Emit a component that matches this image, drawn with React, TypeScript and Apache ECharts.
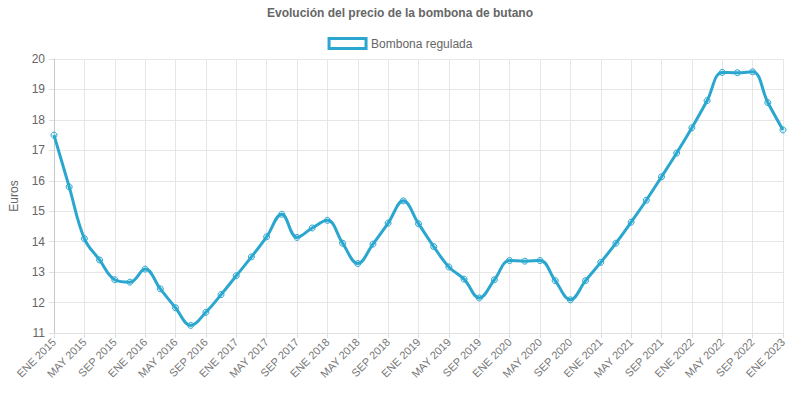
import { useEffect, useRef } from 'react';
import * as echarts from 'echarts';

const months = ['ENE', 'MAR', 'MAY', 'JUL', 'SEP', 'NOV'];
const years = [2015, 2016, 2017, 2018, 2019, 2020, 2021, 2022];

// bimonthly labels, ENE 2015 .. ENE 2023
const categories: string[] = [];
years.forEach((y) => months.forEach((m) => categories.push(`${m} ${y}`)));
categories.push('ENE 2023');

const precios = [
  17.5, 15.8, 14.1, 13.4, 12.75, 12.67,
  13.1, 12.45, 11.83, 11.25, 11.68, 12.26,
  12.88, 13.5, 14.16, 14.9, 14.14, 14.45,
  14.7, 13.95, 13.28, 13.92, 14.61, 15.34,
  14.59, 13.84, 13.17, 12.77, 12.15, 12.75,
  13.38, 13.36, 13.38, 12.72, 12.09, 12.72,
  13.32, 13.95, 14.64, 15.36, 16.13, 16.91,
  17.74, 18.63, 19.56, 19.55, 19.58, 18.57,
  17.67,
];

const BLUE = '#2ba7cf';
const FONT = "'Helvetica Neue', Helvetica, Arial, sans-serif";

export default function App() {
  const chartRef = useRef<HTMLDivElement>(null);

  useEffect(() => {
    if (!chartRef.current) return;
    const chart = echarts.init(chartRef.current, undefined, { renderer: 'svg' });

    chart.setOption({
      animation: false,
      textStyle: { fontFamily: FONT },
      title: {
        text: 'Evolución del precio de la bombona de butano',
        left: 'center',
        top: 2,
        textStyle: { color: '#666', fontSize: 12, fontWeight: 'bold', fontFamily: FONT },
      },
      legend: {
        top: 32,
        left: 'center',
        itemWidth: 37,
        itemHeight: 10,
        itemGap: 10,
        textStyle: { color: '#666', fontSize: 12, fontFamily: FONT },
        data: [
          {
            name: 'Bombona regulada',
            icon: 'rect',
            itemStyle: { color: '#fff', borderColor: BLUE, borderWidth: 3 },
          },
        ],
      },
      grid: { left: 53, right: 17, top: 59, bottom: 67, containLabel: false },
      xAxis: {
        type: 'category',
        boundaryGap: false,
        data: categories,
        axisLine: { lineStyle: { color: '#e0e0e0' } },
        axisTick: { show: true, interval: 1, length: 5, lineStyle: { color: '#e0e0e0' } },
        axisLabel: { interval: 1, rotate: 45, margin: 7, color: '#777', fontSize: 11, fontFamily: FONT },
        splitLine: { show: true, interval: 1, lineStyle: { color: '#e6e6e6' } },
      },
      yAxis: {
        type: 'value',
        min: 11,
        max: 20,
        interval: 1,
        name: 'Euros',
        nameLocation: 'middle',
        nameGap: 34,
        nameTextStyle: { color: '#666', fontSize: 12, fontFamily: FONT },
        axisLine: { show: true, lineStyle: { color: '#c8c8c8' } },
        axisTick: { show: true, length: 5, lineStyle: { color: '#e0e0e0' } },
        axisLabel: { margin: 9, color: '#666', fontSize: 12, fontFamily: FONT },
        splitLine: { show: true, lineStyle: { color: '#e6e6e6' } },
      },
      series: [
        {
          name: 'Bombona regulada',
          type: 'line',
          data: precios,
          smooth: 0.4,
          symbol: 'circle',
          symbolSize: 6,
          showAllSymbol: true,
          lineStyle: { color: BLUE, width: 3 },
          itemStyle: { color: 'rgba(43,167,207,0.15)', borderColor: BLUE, borderWidth: 1 },
        },
      ],
    });

    return () => chart.dispose();
  }, []);

  return (
    <div
      ref={chartRef}
      style={{ position: 'fixed', left: 0, top: 0, width: 800, height: 400, background: '#fff' }}
    />
  );
}
